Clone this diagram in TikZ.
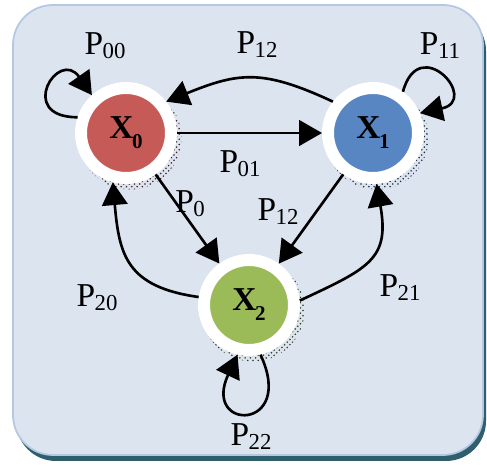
\documentclass[tikz,border=0pt]{standalone}
\usepackage{fontspec}
\setmainfont{Liberation Serif}
\usetikzlibrary{arrows.meta, patterns}
\definecolor{boxfill}{HTML}{DCE4F0}
\definecolor{boxline}{HTML}{B4C8E2}
\definecolor{boxshadow}{HTML}{2F5F6C}
\definecolor{xred}{HTML}{C65A57}
\definecolor{xblue}{HTML}{5886C2}
\definecolor{xgreen}{HTML}{9BBB59}
\newcommand{\plab}[1]{P\kern-0.3pt\raisebox{-0.12em}{\fontsize{13}{13}\selectfont #1}}
\newcommand{\xlab}[1]{\textbf{X\kern-0.8pt\raisebox{-0.3em}{\fontsize{12}{12}\selectfont #1}}}

\begin{document}
\begin{tikzpicture}[x=0.02cm, y=0.02cm, line width=1.5pt,
    state/.style={circle, draw=white, line width=6.8pt, minimum size=1.8cm, inner sep=0pt,
                  font=\fontsize{19}{20}\selectfont},
    shade/.style={pattern=crosshatch dots, pattern color=#1},
    arr/.style={-{Triangle[length=13pt, width=14.5pt]}},
    lab/.style={font=\fontsize{19}{20}\selectfont, inner sep=0pt}]
  \useasboundingbox (0,0) rectangle (487,466);
  % box with its shadow
  \fill[boxshadow, rounded corners=0.8cm] (16,455) rectangle (486,5);
  \fill[boxfill, draw=boxline, line width=1pt, rounded corners=0.8cm] (13,461) rectangle (483,11);
  % shadows of the states
  \fill[shade=xred!35!black]   (130,328) circle[radius=1.03cm];
  \fill[shade=xblue!35!black]  (377,328) circle[radius=1.03cm];
  \fill[shade=xgreen!35!black] (253,156) circle[radius=1.03cm];
  % states
  \node[state, fill=xred]   (X0) at (126,333) {\xlab{0}};
  \node[state, fill=xblue]  (X1) at (373,333) {\xlab{1}};
  \node[state, fill=xgreen] (X2) at (249,161) {\xlab{2}};
  % transitions
  \draw[arr] (X0) -- (X1);
  \draw[arr] (X1.142) to[out=155, in=22, looseness=1.2] (X0.38);
  \draw[arr] (X0) -- (X2);
  \draw[arr] (X1) -- (X2);
  \draw[arr] (X2.171) to[out=172, in=-85, looseness=1.3] (X0.255);
  \draw[arr] (X2.5) to[out=25, in=-80, looseness=1.4] (X1.274);
  \draw[arr] (X0.162) .. controls +(180:62) and +(125:58) .. (X0.132);
  \draw[arr] (X1.54) .. controls +(75:62) and +(12:62) .. (X1.23);
  \draw[arr] (X2.-77) .. controls +(-65:85) and +(-115:85) .. (X2.-103);
  % labels
  \node[lab] (l00)  at (105,420) {\plab{00}};
  \node[lab] (l12a) at (257,421) {\plab{12}};
  \node[lab] (l11)  at (440,420) {\plab{11}};
  \node[lab] (l01)  at (240,302) {\plab{01}};
  \node[lab] (l0)   at (190,262) {\plab{0}};
  \node[lab] (l12b) at (278,254) {\plab{12}};
  \node[lab] (l20)  at (97,168)  {\plab{20}};
  \node[lab] (l21)  at (400,178) {\plab{21}};
  \node[lab] (l22)  at (251,29)  {\plab{22}};
\end{tikzpicture}
\end{document}
